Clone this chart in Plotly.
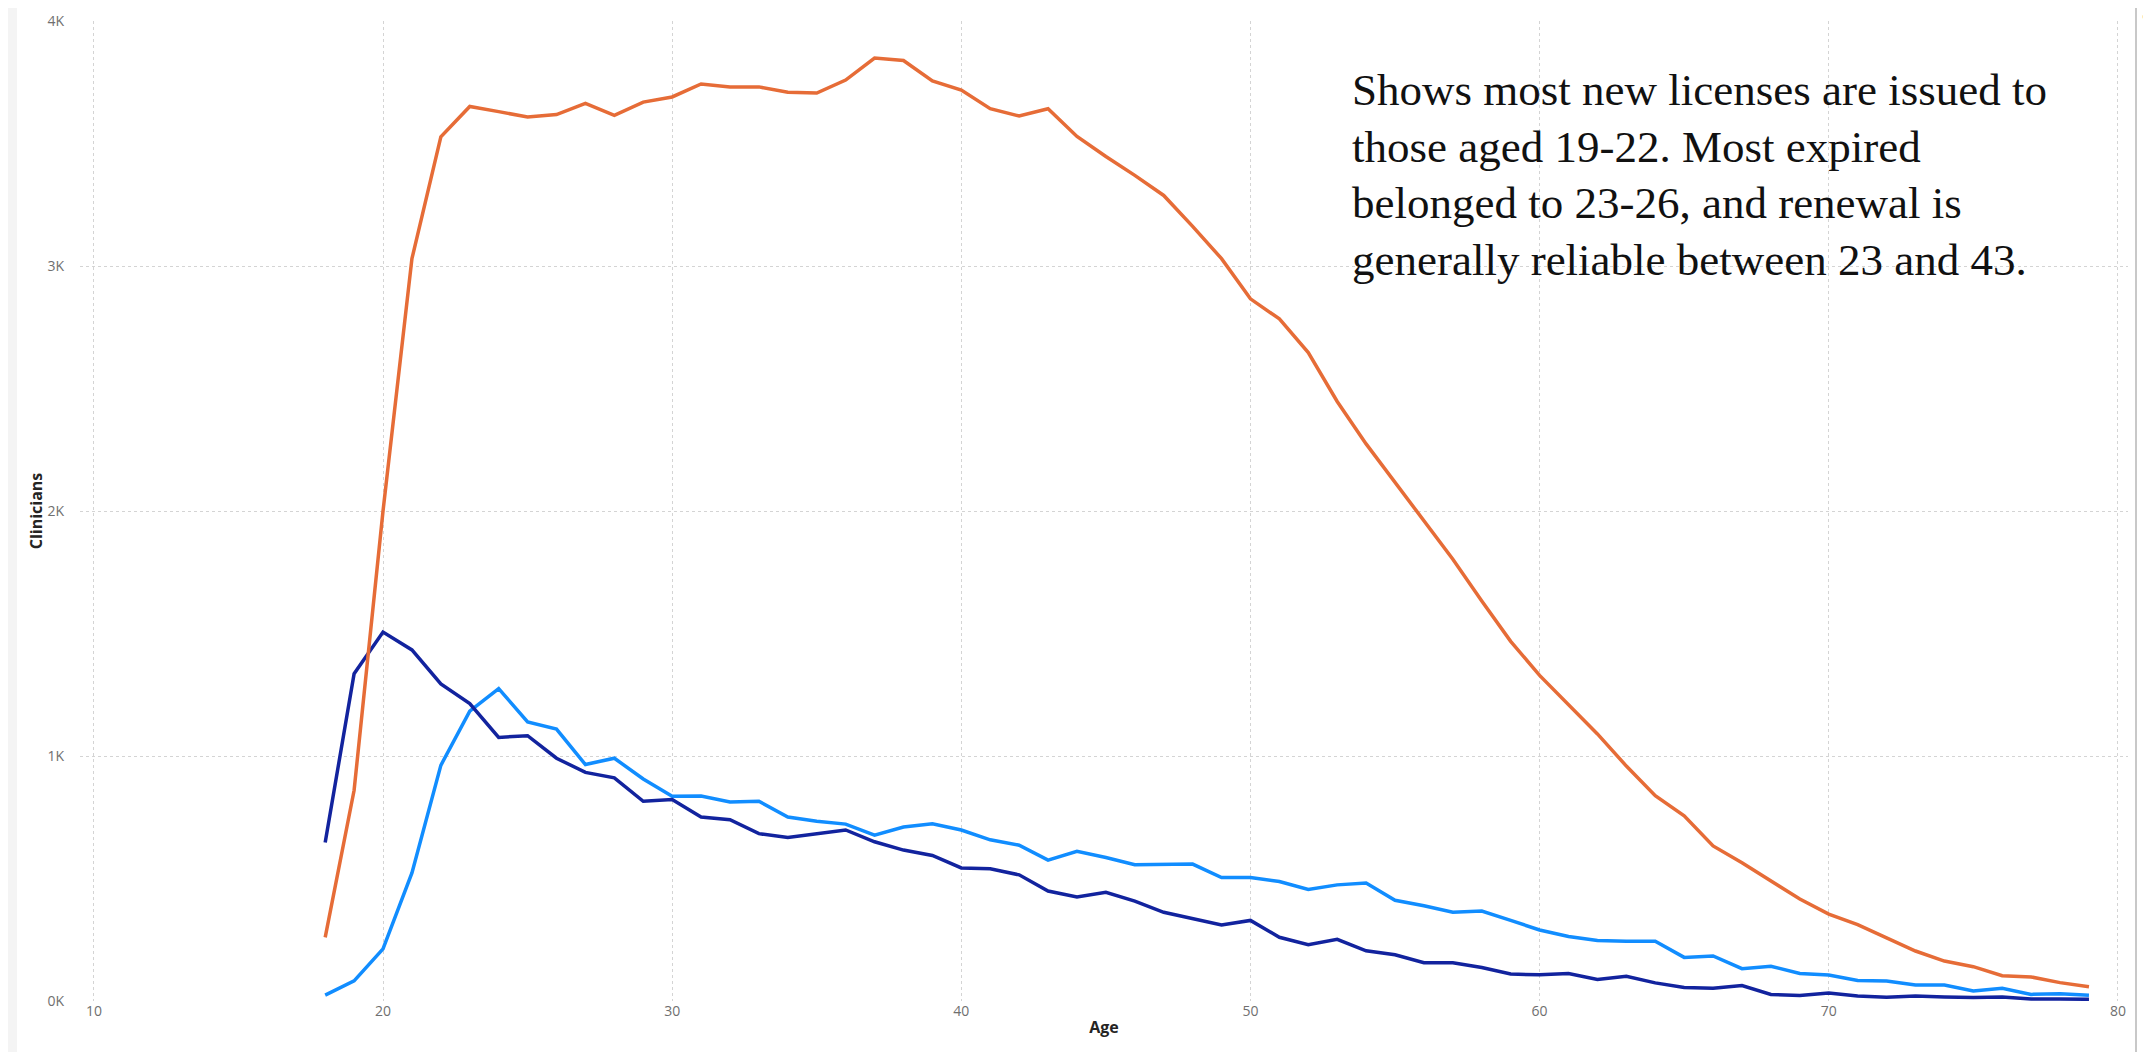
import plotly.graph_objects as go

ages = list(range(18, 80))

renewed = [260, 860, 2000, 3030, 3527, 3651, 3630, 3608, 3618, 3664,
           3615, 3669, 3690, 3743, 3731, 3731, 3709, 3706, 3759, 3849,
           3839, 3755, 3718, 3642, 3612, 3642, 3529, 3447, 3370, 3288,
           3162, 3030, 2866, 2784, 2647, 2447, 2274, 2118, 1962, 1803,
           1633, 1468, 1329, 1208, 1090, 959, 838, 756, 633, 564,
           488, 416, 355, 312, 258, 204, 163, 140, 103, 98,
           75, 58]

new = [647, 1336, 1506, 1433, 1294, 1214, 1076, 1083, 991, 933,
       911, 815, 822, 751, 740, 683, 667, 683, 698, 650,
       616, 594, 543, 540, 515, 449, 425, 444, 408, 362,
       337, 310, 329, 260, 230, 252, 205, 189, 156, 156,
       137, 110, 107, 112, 88, 101, 74, 55, 52, 63,
       27, 22, 33, 20, 15, 20, 16, 14, 16, 8,
       8, 7]

expired = [24, 82, 213, 523, 962, 1183, 1275, 1139, 1110, 965,
           991, 906, 836, 837, 812, 815, 751, 734, 722, 677,
           710, 723, 698, 658, 636, 575, 611, 586, 556, 556,
           559, 504, 504, 488, 455, 474, 482, 411, 389, 362,
           367, 329, 290, 263, 247, 244, 244, 178, 184, 132,
           142, 112, 106, 84, 82, 65, 65, 41, 52, 27,
           30, 23]

y_tickvals = [0, 1000, 2000, 3000, 4000]
y_ticktext = ["0K", "1K", "2K", "3K", "4K"]
x_tickvals = [10, 20, 30, 40, 50, 60, 70, 80]

note_lines = ["Shows most new licenses are issued to",
              "those aged 19-22. Most expired",
              "belonged to 23-26, and renewal is",
              "generally reliable between 23 and 43."]

W, H = 2151, 1052
L, R, T, B = 72, 31, 13, 59
pw, ph = W - L - R, H - T - B

fig = go.Figure()
fig.add_trace(go.Scatter(x=ages, y=expired, mode="lines", name="Expired",
                         line=dict(color="#118DFF", width=3.5)))
fig.add_trace(go.Scatter(x=ages, y=new, mode="lines", name="New",
                         line=dict(color="#12239E", width=3.5)))
fig.add_trace(go.Scatter(x=ages, y=renewed, mode="lines", name="Renewed",
                         line=dict(color="#E66C37", width=3.5)))

tickfont = dict(family="Open Sans, Noto Sans, sans-serif", size=14, color="#6f6f6f")
titlefont = dict(family="Open Sans, Noto Sans, sans-serif", size=16, color="#252423")

fig.update_layout(
    width=W, height=H,
    margin=dict(l=L, r=R, t=T, b=B, autoexpand=False),
    paper_bgcolor="white", plot_bgcolor="white",
    showlegend=False,
    xaxis=dict(range=[9.52, 80.35], tickvals=x_tickvals, showgrid=True,
               gridcolor="#d4d4d4", griddash="dot", gridwidth=1,
               zeroline=False, showline=False, ticks="", tickfont=tickfont,
               automargin=False,
               title=dict(text="<b>Age</b>", font=titlefont, standoff=2)),
    yaxis=dict(range=[0, 4000], tickvals=y_tickvals, ticktext=y_ticktext,
               showgrid=True, gridcolor="#d4d4d4", griddash="dot", gridwidth=1,
               zeroline=False, showline=False, ticks="outside", ticklen=12,
               tickcolor="rgba(0,0,0,0)", tickfont=tickfont, automargin=False,
               title=dict(text="<b>Clinicians</b>", font=titlefont, standoff=1)),
)

# annotation text, one line per annotation for exact line spacing
first_top, spacing = 55, 56.7
for i, line in enumerate(note_lines):
    top_px = first_top + i * spacing
    fig.add_annotation(
        xref="paper", yref="paper",
        x=(1342 - L) / pw, y=(H - B - top_px) / ph,
        xanchor="left", yanchor="top", align="left",
        text=line, showarrow=False,
        font=dict(family="Liberation Serif, serif", size=45, color="#111111"),
    )

# right-side divider and clipped label
fig.add_shape(type="line", xref="paper", yref="paper",
              x0=(2128 - L) / pw, x1=(2128 - L) / pw, y0=-B / ph, y1=(H - B) / ph,
              line=dict(color="#c8c8c8", width=2))
fig.add_annotation(xref="paper", yref="paper", x=(2140 - L) / pw, y=(H - B - 4) / ph,
                   xanchor="center", yanchor="top", text="s", textangle=90,
                   showarrow=False, font=dict(family="Open Sans", size=13, color="#252423"))
# bottom and left chrome strips
fig.add_shape(type="rect", xref="paper", yref="paper",
              x0=-L / pw, x1=(W - L) / pw, y0=-B / ph, y1=(-B + 7) / ph,
              fillcolor="#f2f2f2", line=dict(width=0), layer="below")
fig.add_shape(type="rect", xref="paper", yref="paper",
              x0=-L / pw, x1=(-L + 9) / pw, y0=-B / ph, y1=(H - B) / ph,
              fillcolor="#f4f4f4", line=dict(width=0), layer="below")

fig.write_html("out.html")
